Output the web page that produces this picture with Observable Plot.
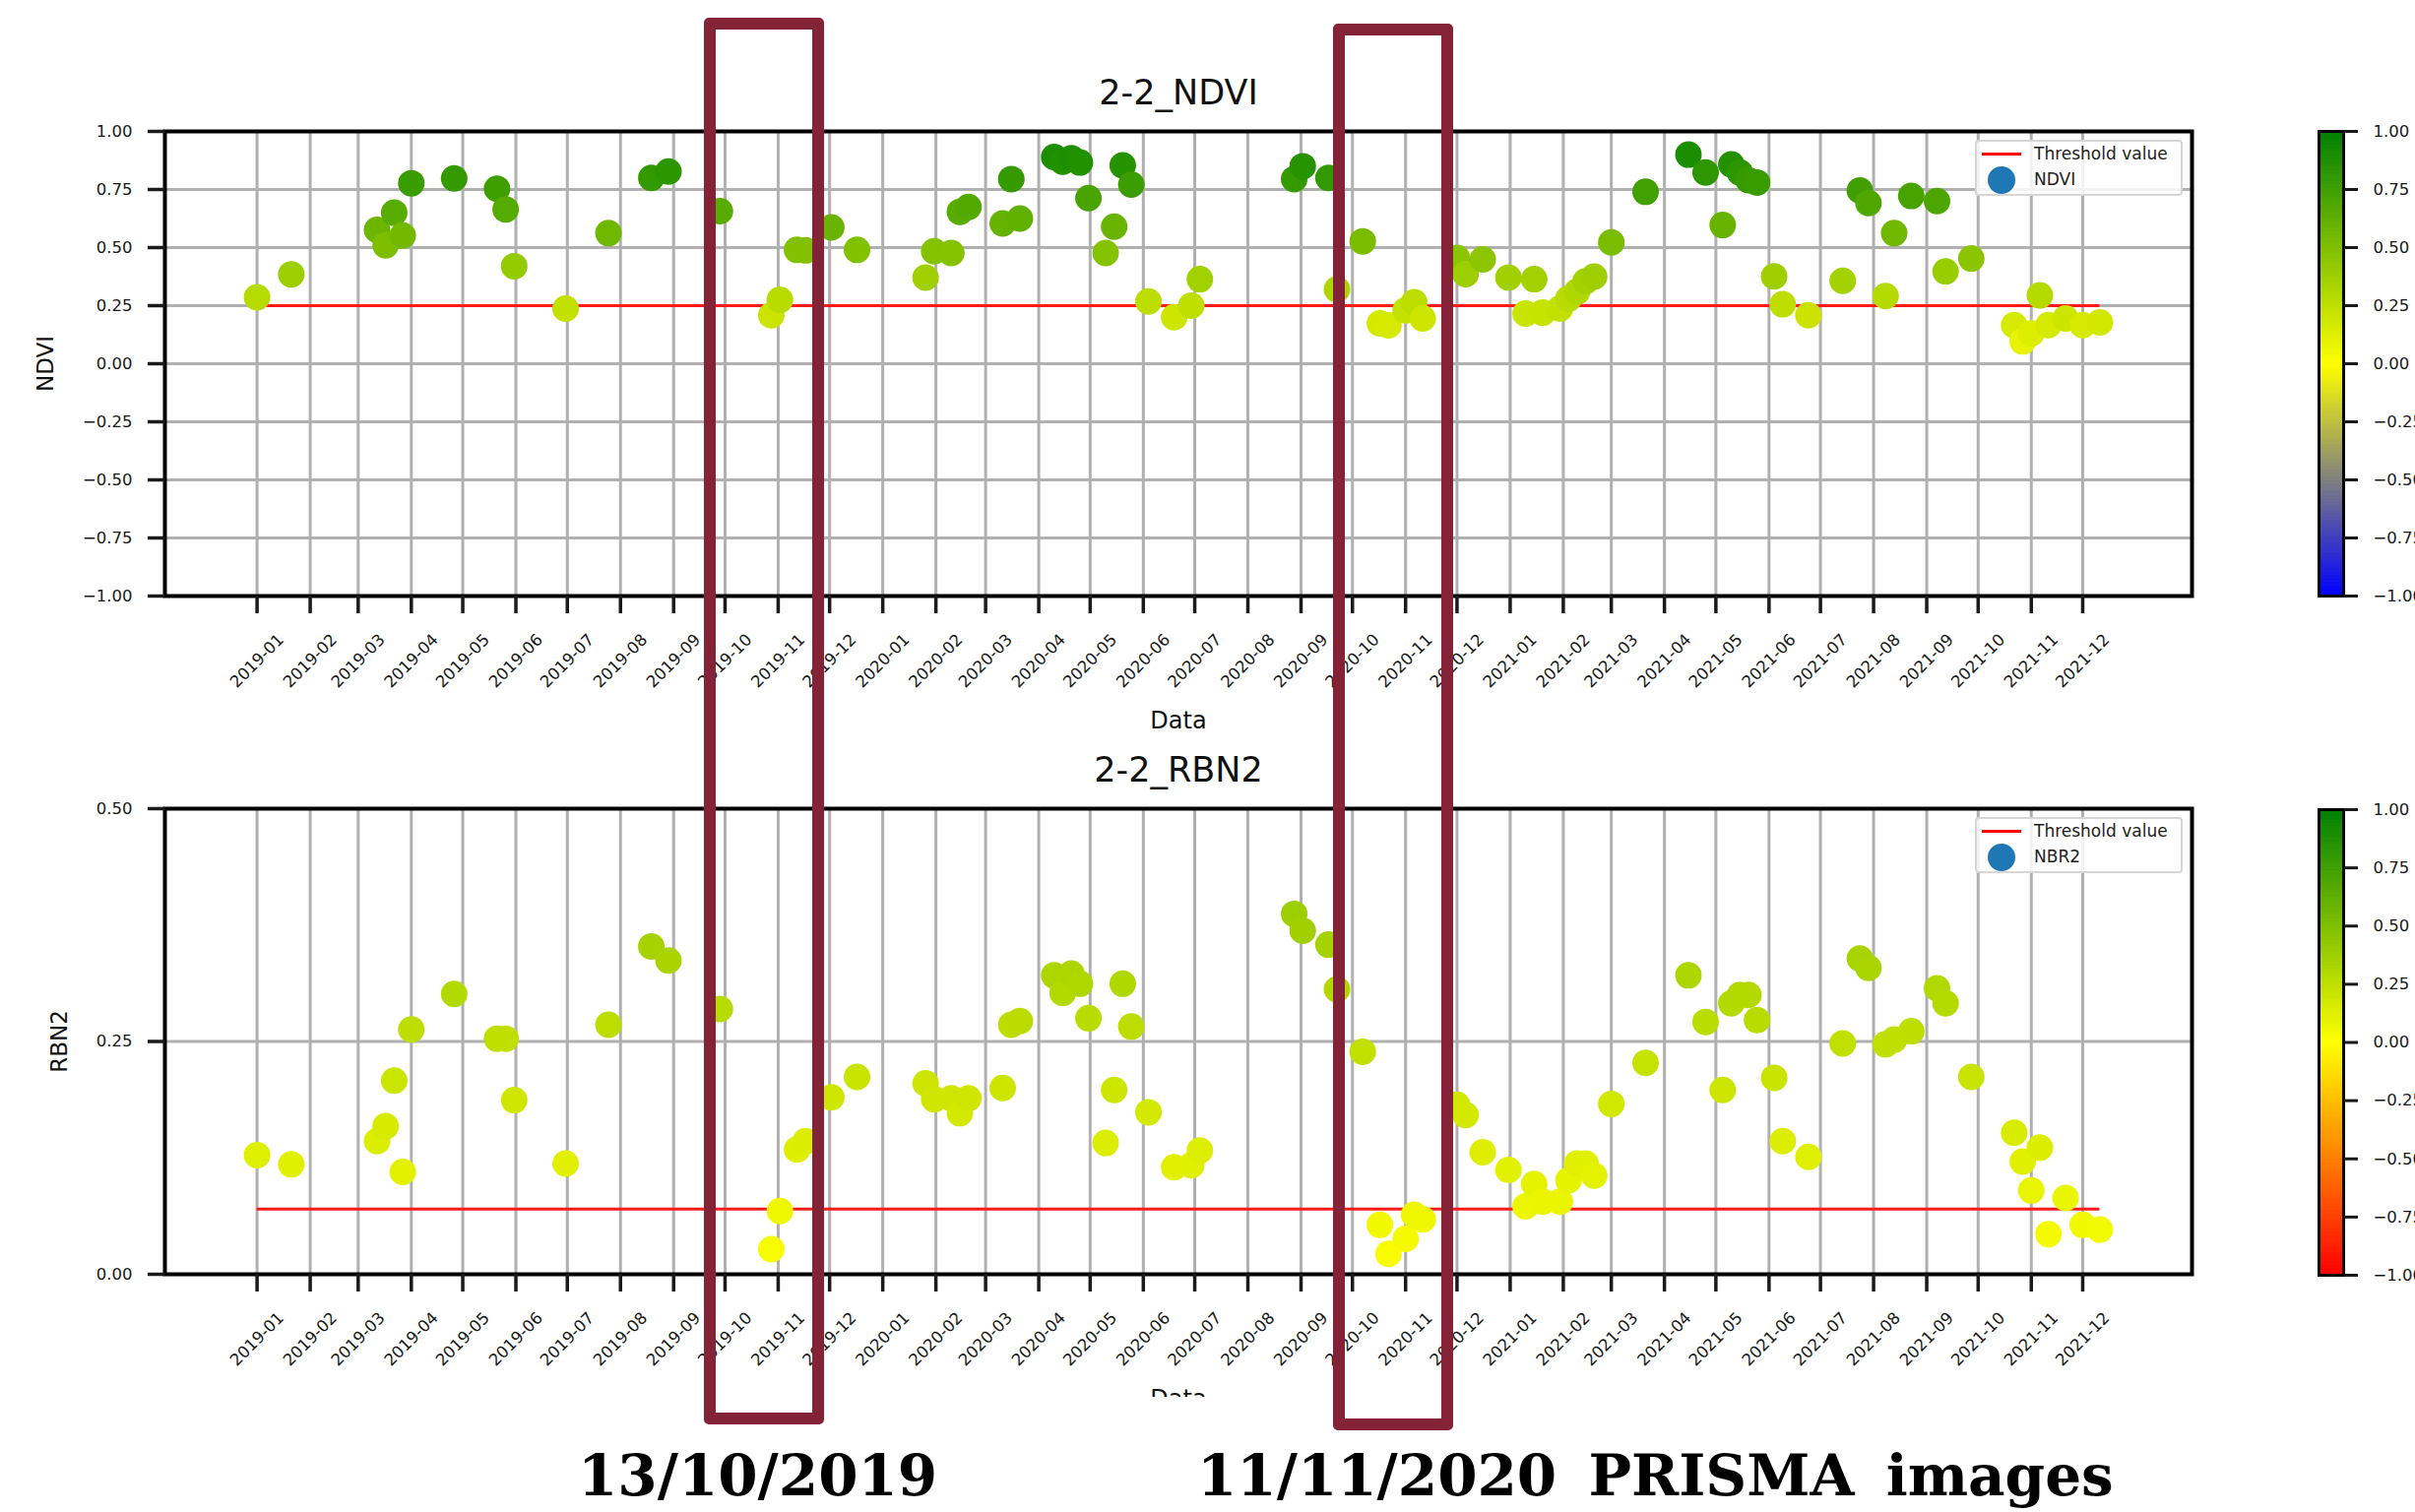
<!DOCTYPE html>
<html>
<head>
<meta charset="utf-8">
<script src="https://cdn.jsdelivr.net/npm/d3@7"></script>
<script src="https://cdn.jsdelivr.net/npm/@observablehq/plot@0.6"></script>
<style>
html, body { margin: 0; padding: 0; background: #fff; overflow: hidden; }
#root { position: relative; width: 2453px; height: 1536px; overflow: hidden; background: #fff; font-family: "DejaVu Sans", sans-serif; color: #111; }
.legend { position: absolute; box-sizing: border-box; border: 2px solid #d6d6d6; border-radius: 4px; background: rgba(255,255,255,0.85); }
.lg-line { position: absolute; height: 3px; background: #ff0000; }
.lg-dot { position: absolute; border-radius: 50%; background: #1f77b4; }
.lg-text { position: absolute; font-size: 17px; line-height: 17px; color: #222; white-space: nowrap; }
.box { position: absolute; box-sizing: border-box; border: 12px solid #842337; border-radius: 5px; }
.caption { position: absolute; font-family: "DejaVu Serif", serif; font-weight: bold; font-size: 58px; line-height: 58px; color: #000; white-space: nowrap; }
</style>
</head>
<body>
<div id="root"></div>
<script>
// ---------- DATA ----------
const dates = [
  "2019-01-01","2019-01-21","2019-03-12","2019-03-17","2019-03-22","2019-03-27","2019-04-01","2019-04-26",
  "2019-05-21","2019-05-26","2019-05-31","2019-06-30","2019-07-25","2019-08-19","2019-08-29","2019-09-28",
  "2019-10-28","2019-11-02","2019-11-12","2019-11-17","2019-12-02","2019-12-17","2020-01-26","2020-01-31",
  "2020-02-10","2020-02-15","2020-02-20","2020-03-11","2020-03-16","2020-03-21","2020-04-10","2020-04-15",
  "2020-04-20","2020-04-25","2020-04-30","2020-05-10","2020-05-15","2020-05-20","2020-05-25","2020-06-04",
  "2020-06-19","2020-06-29","2020-07-04","2020-08-28","2020-09-02","2020-09-17","2020-09-22","2020-10-07",
  "2020-10-17","2020-10-22","2020-11-01","2020-11-06","2020-11-11","2020-12-01","2020-12-06","2020-12-16",
  "2020-12-31","2021-01-10","2021-01-15","2021-01-20","2021-01-30","2021-02-04","2021-02-09","2021-02-14",
  "2021-02-19","2021-03-01","2021-03-21","2021-04-15","2021-04-25","2021-05-05","2021-05-10","2021-05-15",
  "2021-05-20","2021-05-25","2021-06-04","2021-06-09","2021-06-24","2021-07-14","2021-07-24","2021-07-29",
  "2021-08-08","2021-08-13","2021-08-23","2021-09-07","2021-09-12","2021-09-27","2021-10-22","2021-10-27",
  "2021-11-01","2021-11-06","2021-11-11","2021-11-21","2021-12-01","2021-12-11"
];
const ndviValues = [
  0.286,0.385,0.576,0.51,0.65,0.552,0.777,0.798,
  0.753,0.664,0.42,0.237,0.562,0.80,0.827,0.657,
  0.209,0.275,0.49,0.488,0.587,0.49,0.371,0.484,
  0.477,0.654,0.675,0.604,0.795,0.625,0.89,0.87,
  0.885,0.866,0.713,0.477,0.59,0.854,0.771,0.268,
  0.20,0.25,0.364,0.795,0.85,0.80,0.32,0.527,
  0.174,0.165,0.23,0.265,0.195,0.455,0.386,0.449,
  0.371,0.216,0.364,0.22,0.237,0.28,0.31,0.355,
  0.375,0.522,0.74,0.90,0.823,0.597,0.858,0.823,
  0.79,0.78,0.376,0.256,0.209,0.357,0.746,0.692,
  0.291,0.562,0.722,0.70,0.397,0.453,0.166,0.096,
  0.13,0.294,0.166,0.195,0.166,0.178
];
const nbr2Values = [
  0.128,0.118,0.143,0.159,0.208,0.11,0.263,0.301,
  0.253,0.253,0.187,0.119,0.268,0.352,0.337,0.285,
  0.027,0.068,0.134,0.143,0.19,0.212,0.205,0.188,
  0.189,0.173,0.189,0.20,0.268,0.272,0.321,0.302,
  0.323,0.312,0.275,0.141,0.198,0.312,0.266,0.174,
  0.115,0.117,0.133,0.387,0.369,0.354,0.306,0.239,
  0.053,0.022,0.038,0.064,0.059,0.182,0.171,0.131,
  0.112,0.073,0.097,0.078,0.078,0.101,0.119,0.119,
  0.106,0.183,0.227,0.321,0.271,0.198,0.291,0.30,
  0.30,0.273,0.211,0.143,0.126,0.248,0.339,0.329,
  0.247,0.252,0.261,0.307,0.291,0.212,0.152,0.121,
  0.09,0.136,0.043,0.082,0.053,0.048
];
const monthTicks = [
  "2019-01-01","2019-02-01","2019-03-01","2019-04-01","2019-05-01","2019-06-01",
  "2019-07-01","2019-08-01","2019-09-01","2019-10-01","2019-11-01","2019-12-01",
  "2020-01-01","2020-02-01","2020-03-01","2020-04-01","2020-05-01","2020-06-01",
  "2020-07-01","2020-08-01","2020-09-01","2020-10-01","2020-11-01","2020-12-01",
  "2021-01-01","2021-02-01","2021-03-01","2021-04-01","2021-05-01","2021-06-01",
  "2021-07-01","2021-08-01","2021-09-01","2021-10-01","2021-11-01","2021-12-01"
];
const ndviTicks = [-1, -0.75, -0.5, -0.25, 0, 0.25, 0.5, 0.75, 1];
const nbr2Ticks = [0, 0.25, 0.5];
const colorbarTicks = [-1, -0.75, -0.5, -0.25, 0, 0.25, 0.5, 0.75, 1];
const ndviThreshold = 0.25;
const nbr2Threshold = 0.07;
const ndviColors = ["#0000ff", "#ffff00", "#008000"];
const nbr2Colors = ["#ff0000", "#ffff00", "#008000"];
const titles = ["2-2_NDVI", "2-2_RBN2"];
const yLabels = ["NDVI", "RBN2"];
const legendLabels = [["Threshold value", "NDVI"], ["Threshold value", "NBR2"]];
const captions = ["13/10/2019", "11/11/2020 PRISMA images"];

// ---------- RENDER ----------
const root = document.getElementById("root");
const W = 2453;
const baseStyle = {fontFamily: "DejaVu Sans, sans-serif", fontSize: "16.5px", color: "#1a1a1a", background: "transparent"};

function chart({values, yDomain, yTicks, threshold, colors, title, ylabel, height, mt, mb, ylabelDx}) {
  const data = dates.map((d, i) => ({date: new Date(d), v: values[i]}));
  const [d0, d1] = d3.extent(data, d => d.date);
  const pad = (d1 - d0) * 0.05;
  const ticks = monthTicks.map(s => new Date(s));
  return Plot.plot({
    width: W, height,
    marginLeft: 167, marginRight: 227, marginTop: mt, marginBottom: mb,
    style: baseStyle,
    x: {type: "utc", domain: [new Date(+d0 - pad), new Date(+d1 + pad)]},
    y: {domain: yDomain},
    color: {type: "linear", domain: [-1, 0, 1], range: colors, interpolate: "rgb"},
    marks: [
      Plot.gridX({ticks, stroke: "#b0b0b0", strokeOpacity: 1, strokeWidth: 3}),
      Plot.gridY({ticks: yTicks, stroke: "#b0b0b0", strokeOpacity: 1, strokeWidth: 3}),
      Plot.ruleY([threshold], {x1: () => d0, x2: () => d1, stroke: "#ff1a1a", strokeWidth: 3}),
      Plot.dot(data, {x: "date", y: "v", fill: "v", r: 13.5}),
      Plot.frame({stroke: "#000", strokeWidth: 4}),
      Plot.axisX({ticks, tickFormat: d3.utcFormat("%Y-%m"), tickSize: 18, tickPadding: 48, tickRotate: -45,
        textAnchor: "middle", lineAnchor: "middle", strokeWidth: 3.5, label: null}),
      Plot.axisY({ticks: yTicks, tickFormat: d3.format(".2f"), tickSize: 17, tickPadding: 16, strokeWidth: 3.5, label: null}),
      Plot.text([title], {text: d => d, frameAnchor: "top", lineAnchor: "middle", dy: -39, fontSize: 35, fill: "#111"}),
      Plot.text(["Data"], {text: d => d, frameAnchor: "bottom", lineAnchor: "middle", dy: 127, fontSize: 24, fill: "#111"}),
      Plot.text([ylabel], {text: d => d, frameAnchor: "left", textAnchor: "middle", lineAnchor: "middle", dx: ylabelDx, rotate: -90, fontSize: 23, fill: "#111"})
    ]
  });
}

function colorbar({colors, height, mt, mb}) {
  const strips = d3.range(-1, 1, 0.01);
  return Plot.plot({
    width: 200, height,
    marginLeft: 25, marginRight: 150, marginTop: mt, marginBottom: mb,
    style: baseStyle,
    x: {domain: [0, 1], axis: null},
    y: {domain: [-1, 1]},
    color: {type: "linear", domain: [-1, 0, 1], range: colors, interpolate: "rgb"},
    marks: [
      Plot.rect(strips, {x1: 0, x2: 1, y1: d => d, y2: d => d + 0.01, fill: d => d + 0.005, stroke: d => d + 0.005, strokeWidth: 1}),
      Plot.frame({stroke: "#000", strokeWidth: 3}),
      Plot.axisY({anchor: "right", ticks: colorbarTicks, tickFormat: d3.format(".2f"), tickSize: 14, tickPadding: 16, strokeWidth: 3, label: null})
    ]
  });
}

function place(el, left, top) {
  el.style.position = "absolute";
  el.style.left = left + "px";
  el.style.top = top + "px";
  root.appendChild(el);
}

// top chart
place(chart({values: ndviValues, yDomain: [-1, 1], yTicks: ndviTicks, threshold: ndviThreshold, colors: ndviColors,
  title: titles[0], ylabel: yLabels[0], height: 760, mt: 133, mb: 155, ylabelDx: -121}), 0, 0);
// bottom chart (svg ends at 1419, cutting the lower "Data" label like the reference)
place(chart({values: nbr2Values, yDomain: [0, 0.5], yTicks: nbr2Ticks, threshold: nbr2Threshold, colors: nbr2Colors,
  title: titles[1], ylabel: yLabels[1], height: 719, mt: 121, mb: 125, ylabelDx: -107}), 0, 700);

// colorbars
place(colorbar({colors: ndviColors, height: 760, mt: 133, mb: 155}), 2330, 0);
place(colorbar({colors: nbr2Colors, height: 716, mt: 122, mb: 121}), 2330, 700);

// legends
function legend(top, labels) {
  const box = document.createElement("div");
  box.className = "legend";
  box.style.left = "2006px"; box.style.top = top + "px";
  box.style.width = "211px"; box.style.height = "57px";
  root.appendChild(box);
  const line = document.createElement("div");
  line.className = "lg-line";
  place(line, 2013, top + 12.5); line.style.width = "40px";
  const t1 = document.createElement("div");
  t1.className = "lg-text"; t1.textContent = labels[0];
  place(t1, 2066, top + 6);
  const dot = document.createElement("div");
  dot.className = "lg-dot";
  place(dot, 2019, top + 27); dot.style.width = "28px"; dot.style.height = "28px";
  const t2 = document.createElement("div");
  t2.className = "lg-text"; t2.textContent = labels[1];
  place(t2, 2066, top + 32);
}
legend(142, legendLabels[0]);
legend(830, legendLabels[1]);

// highlight boxes
function hbox(left, top, w, h) {
  const b = document.createElement("div");
  b.className = "box";
  b.style.width = w + "px"; b.style.height = h + "px";
  place(b, left, top);
}
hbox(715, 18, 122, 1429);
hbox(1354, 24, 122, 1429);

// captions
const c1 = document.createElement("div");
c1.className = "caption"; c1.textContent = captions[0];
place(c1, 587, 1470);
const c2 = document.createElement("div");
c2.className = "caption"; c2.textContent = captions[1];
c2.style.wordSpacing = "12px";
place(c2, 1216, 1470);
</script>
</body>
</html>
